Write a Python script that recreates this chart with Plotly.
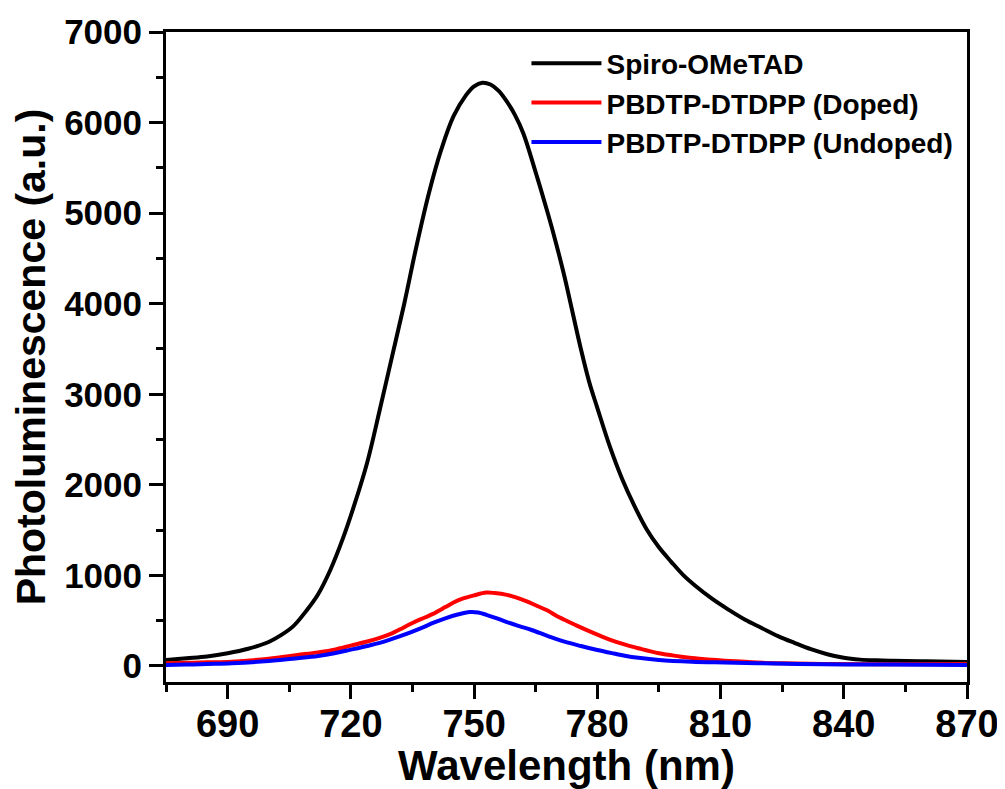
import plotly.graph_objects as go

# ---- data ----
spiro_wl = [675, 680, 685, 690, 695, 700, 703, 706, 709, 712, 715, 718, 721, 724, 727, 730,
            733, 736, 739, 742, 745, 748, 750, 752, 754, 756, 758, 760, 762, 765, 768, 770,
            772, 774, 776, 778, 780, 783, 786, 789, 792, 795, 798, 801, 804, 808, 812, 816,
            820, 824, 828, 832, 836, 840, 844, 848, 852, 860, 870]
spiro_pl = [66, 85, 105, 140, 190, 265, 340, 440, 600, 790, 1060, 1400, 1800, 2250, 2820, 3410,
            4000, 4640, 5220, 5700, 6070, 6300, 6400, 6440, 6420, 6350, 6230, 6080, 5880, 5450, 4990, 4660,
            4300, 3900, 3500, 3140, 2850, 2430, 2070, 1770, 1510, 1310, 1150, 1000, 880, 740, 620, 510,
            420, 330, 255, 185, 130, 90, 70, 62, 58, 52, 44]

doped_wl = [675, 680, 685, 691, 700, 707, 712, 716, 720, 724, 727, 730, 732, 735, 738, 740,
            743, 745, 747, 750, 753, 755, 758, 760, 763, 765, 768, 770, 772, 775, 779, 783,
            787, 790, 795, 800, 803, 808, 811, 815, 819, 825, 835, 850, 870]
doped_pl = [30, 35, 40, 47, 80, 121, 150, 180, 225, 270, 310, 360, 405, 475, 535, 575,
            650, 700, 740, 780, 810, 805, 785, 760, 710, 670, 610, 555, 510, 445, 365, 292,
            232, 195, 140, 105, 87, 68, 59, 48, 38, 30, 22, 19, 22]

undoped_wl = [675, 680, 685, 691, 700, 707, 712, 716, 720, 724, 727, 732, 735, 738, 740, 743,
              746, 749, 751, 753, 755, 758, 761, 764, 768, 772, 776, 780, 784, 787, 790, 795,
              803, 811, 819, 835, 850, 870]
undoped_pl = [11, 15, 22, 30, 55, 85, 110, 140, 180, 221, 255, 330, 380, 435, 475, 526,
              568, 595, 590, 565, 535, 485, 440, 397, 330, 268, 220, 177, 138, 110, 90, 66,
              47, 38, 30, 19, 15, 11]

series_names = ["Spiro-OMeTAD", "PBDTP-DTDPP (Doped)", "PBDTP-DTDPP (Undoped)"]
series_colors = ["#000000", "#FF0000", "#0000FF"]

x_ticks = [690, 720, 750, 780, 810, 840, 870]
y_ticks = [0, 1000, 2000, 3000, 4000, 5000, 6000, 7000]

FONT = "Arial, Liberation Sans, sans-serif"

fig = go.Figure()
for wl, pl, name, col in zip([spiro_wl, doped_wl, undoped_wl],
                             [spiro_pl, doped_pl, undoped_pl],
                             series_names, series_colors):
    fig.add_trace(go.Scatter(x=wl, y=pl, mode="lines", name=name,
                             line=dict(color=col, width=4, shape="spline", smoothing=1.0)))

# the page body adds an 8px offset, so the figure is sized 997x781
fig.update_layout(
    width=997, height=781,
    margin=dict(l=158, r=38, t=24, b=107, autoexpand=False),
    paper_bgcolor="white", plot_bgcolor="white",
    font=dict(family=FONT, color="black"),
    showlegend=True,
    legend=dict(x=0.45, y=0.99, xanchor="left", yanchor="top",
                bgcolor="rgba(0,0,0,0)", borderwidth=0,
                font=dict(size=28, family=FONT, color="black", weight="bold"),
                itemwidth=70, tracegroupgap=0),
)

fig.update_xaxes(
    range=[675, 870], tickvals=x_ticks, ticktext=[str(v) for v in x_ticks],
    showgrid=False, zeroline=False, automargin=False,
    showline=True, linecolor="black", linewidth=3, mirror=True,
    ticks="outside", ticklen=14, tickwidth=3, tickcolor="black",
    ticklabelstandoff=-8,
    minor=dict(dtick=15, tick0=675, ticks="outside", ticklen=7, tickwidth=3, tickcolor="black"),
    tickfont=dict(size=38, family=FONT, color="black", weight="bold"),
    title=dict(text="Wavelength (nm)", font=dict(size=42, family=FONT, color="black", weight="bold"),
               standoff=2),
)
fig.update_yaxes(
    range=[-177, 7000], tickvals=y_ticks, ticktext=[str(v) for v in y_ticks],
    showgrid=False, zeroline=False, automargin=False,
    showline=True, linecolor="black", linewidth=3, mirror=True,
    ticks="outside", ticklen=14, tickwidth=3, tickcolor="black",
    minor=dict(dtick=500, tick0=0, ticks="outside", ticklen=7, tickwidth=3, tickcolor="black"),
    tickfont=dict(size=35, family=FONT, color="black", weight="bold"),
    title=dict(text="Photoluminescence (a.u.)", font=dict(size=41, family=FONT, color="black", weight="bold"),
               standoff=6),
)

fig.write_html("out.html")
